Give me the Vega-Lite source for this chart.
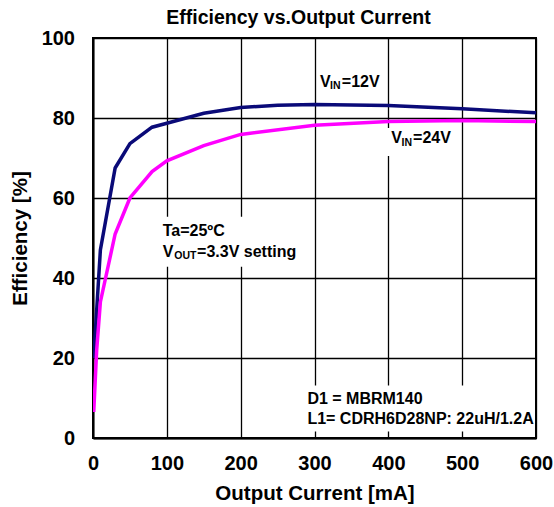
{
  "$schema": "https://vega.github.io/schema/vega-lite/v6.json",
  "width": 443,
  "height": 400,
  "autosize": {"type": "none"},
  "padding": {"left": 93, "top": 38, "right": 18, "bottom": 69},
  "background": "white",
  "title": {"text": "Efficiency vs.Output Current", "font": "Liberation Sans", "fontSize": 19.5, "fontWeight": "bold", "color": "black", "offset": 0, "anchor": "middle", "dx": -16},
  "config": {
    "view": {"stroke": "black", "strokeWidth": 2},
    "axis": {"labelFont": "Liberation Sans", "titleFont": "Liberation Sans", "labelFontWeight": "bold", "titleFontWeight": "bold", "labelFontSize": 20, "titleFontSize": 20.5, "labelColor": "black", "titleColor": "black", "gridColor": "black", "gridWidth": 1.3, "gridOpacity": 1, "domainColor": "black", "domainWidth": 2, "ticks": false, "labelFlush": false, "labelOverlap": false}
  },
  "datasets": {
    "curves": [
      {"current": 1, "eff": 20, "series": "VIN=12V"},
      {"current": 10, "eff": 47, "series": "VIN=12V"},
      {"current": 30, "eff": 67.5, "series": "VIN=12V"},
      {"current": 50, "eff": 73.6, "series": "VIN=12V"},
      {"current": 80, "eff": 77.7, "series": "VIN=12V"},
      {"current": 100, "eff": 78.7, "series": "VIN=12V"},
      {"current": 150, "eff": 81.2, "series": "VIN=12V"},
      {"current": 200, "eff": 82.6, "series": "VIN=12V"},
      {"current": 250, "eff": 83.2, "series": "VIN=12V"},
      {"current": 300, "eff": 83.4, "series": "VIN=12V"},
      {"current": 400, "eff": 83.1, "series": "VIN=12V"},
      {"current": 500, "eff": 82.3, "series": "VIN=12V"},
      {"current": 600, "eff": 81.3, "series": "VIN=12V"},
      {"current": 1, "eff": 6.5, "series": "VIN=24V"},
      {"current": 5, "eff": 22, "series": "VIN=24V"},
      {"current": 10, "eff": 34, "series": "VIN=24V"},
      {"current": 30, "eff": 51, "series": "VIN=24V"},
      {"current": 50, "eff": 60, "series": "VIN=24V"},
      {"current": 80, "eff": 66.6, "series": "VIN=24V"},
      {"current": 100, "eff": 69.3, "series": "VIN=24V"},
      {"current": 150, "eff": 73.1, "series": "VIN=24V"},
      {"current": 200, "eff": 75.9, "series": "VIN=24V"},
      {"current": 300, "eff": 78.2, "series": "VIN=24V"},
      {"current": 400, "eff": 79.1, "series": "VIN=24V"},
      {"current": 500, "eff": 79.4, "series": "VIN=24V"},
      {"current": 600, "eff": 79.1, "series": "VIN=24V"}
    ],
    "boxes": [
      {"x1": 92, "x2": 285, "y1": 42.8, "y2": 55.3},
      {"x1": 398, "x2": 455, "y1": 70.5, "y2": 77.5},
      {"x1": 287, "x2": 598, "y1": 1.6, "y2": 13.1}
    ],
    "bigText": [
      {"x": 307.6, "y": 87.8, "t": "V"},
      {"x": 337, "y": 87.8, "t": "=12V"},
      {"x": 403.8, "y": 73.7, "t": "V"},
      {"x": 433.5, "y": 73.7, "t": "=24V"},
      {"x": 94.4, "y": 50.6, "t": "Ta=25ºC"},
      {"x": 94.4, "y": 45.3, "t": "V"},
      {"x": 141, "y": 45.3, "t": "=3.3V setting"}
    ],
    "subText": [
      {"x": 321, "y": 87.2, "t": "IN"},
      {"x": 418, "y": 73.1, "t": "IN"},
      {"x": 110, "y": 44.7, "t": "OUT"}
    ],
    "noteText": [
      {"x": 290.4, "y": 8.5, "t": "D1 = MBRM140"},
      {"x": 290.4, "y": 3.4, "t": "L1= CDRH6D28NP: 22uH/1.2A"}
    ]
  },
  "encoding": {
    "x": {"type": "quantitative", "scale": {"domain": [0, 600], "nice": false}},
    "y": {"type": "quantitative", "scale": {"domain": [0, 100], "nice": false}}
  },
  "layer": [
    {
      "data": {"name": "boxes"},
      "mark": {"type": "rect", "fill": "white"},
      "encoding": {
        "x": {"field": "x1", "type": "quantitative", "scale": {"domain": [0, 600], "nice": false}, "axis": {"values": [0, 100, 200, 300, 400, 500, 600], "title": "Output Current [mA]", "labelPadding": 15, "titlePadding": 10, "grid": true}},
        "x2": {"field": "x2"},
        "y": {"field": "y1", "type": "quantitative", "scale": {"domain": [0, 100], "nice": false}, "axis": {"values": [0, 20, 40, 60, 80, 100], "title": "Efficiency [%]", "labelPadding": 18.5, "titlePadding": 11, "grid": true}},
        "y2": {"field": "y2"}
      }
    },
    {
      "data": {"name": "curves"},
      "mark": {"type": "line", "strokeWidth": 3.5, "clip": true},
      "encoding": {
        "x": {"field": "current", "type": "quantitative"},
        "y": {"field": "eff", "type": "quantitative"},
        "color": {"field": "series", "type": "nominal", "scale": {"domain": ["VIN=12V", "VIN=24V"], "range": ["#0a0a78", "#ff00ff"]}, "legend": null}
      }
    },
    {
      "data": {"name": "bigText"},
      "mark": {"type": "text", "align": "left", "baseline": "alphabetic", "font": "Liberation Sans", "fontWeight": "bold", "fontSize": 16, "color": "black"},
      "encoding": {
        "x": {"field": "x", "type": "quantitative"},
        "y": {"field": "y", "type": "quantitative"},
        "text": {"field": "t"}
      }
    },
    {
      "data": {"name": "subText"},
      "mark": {"type": "text", "align": "left", "baseline": "alphabetic", "font": "Liberation Sans", "fontWeight": "bold", "fontSize": 10.5, "color": "black"},
      "encoding": {
        "x": {"field": "x", "type": "quantitative"},
        "y": {"field": "y", "type": "quantitative"},
        "text": {"field": "t"}
      }
    },
    {
      "data": {"name": "noteText"},
      "mark": {"type": "text", "align": "left", "baseline": "alphabetic", "font": "Liberation Sans", "fontWeight": "bold", "fontSize": 16, "color": "black"},
      "encoding": {
        "x": {"field": "x", "type": "quantitative"},
        "y": {"field": "y", "type": "quantitative"},
        "text": {"field": "t"}
      }
    }
  ]
}
